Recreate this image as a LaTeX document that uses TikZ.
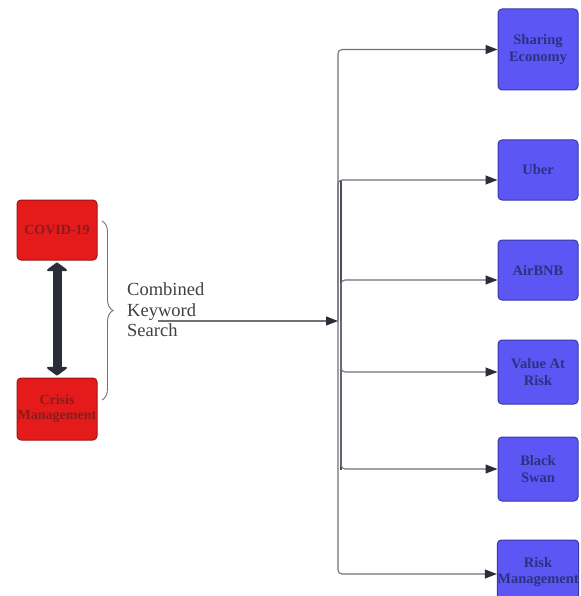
\documentclass[tikz,border=0pt]{standalone}
\usepackage{fontspec}
\setmainfont{Liberation Serif}
\usetikzlibrary{arrows.meta,decorations.pathreplacing}
\definecolor{redfill}{HTML}{E51B1B}
\definecolor{redline}{HTML}{9E1414}
\definecolor{redtext}{HTML}{8A1C1C}
\definecolor{bluefill}{HTML}{5C56F5}
\definecolor{blueline}{HTML}{3A38A8}
\definecolor{bluetext}{HTML}{2E3080}
\definecolor{conngrey}{HTML}{6E7178}
\definecolor{darkarrow}{HTML}{2B2E38}
\tikzset{
  redbox/.style={draw=redline, fill=redfill, line width=1pt, rounded corners=4pt,
    minimum width=80pt, text=redtext, align=center,
    font=\fontsize{14}{16}\selectfont\bfseries, inner sep=0pt},
  bluebox/.style={draw=blueline, fill=bluefill, line width=1pt, rounded corners=4pt,
    minimum width=80pt, text=bluetext, align=center,
    font=\fontsize{14.5}{17}\selectfont\bfseries, inner sep=0pt},
  conn/.style={draw=conngrey, line width=1.1pt, rounded corners=4pt,
    -{Triangle[length=12pt,width=9pt,fill=darkarrow,color=darkarrow]}},
  trunk/.style={draw=conngrey!70!black, line width=1.6pt},
  bigarrow/.style={draw=darkarrow, line width=9pt,
    {Triangle[length=9pt,width=24pt,round]}-{Triangle[length=9pt,width=24pt,round]}},
  bracestyle/.style={draw=conngrey, line width=0.9pt, decorate,
    decoration={brace, amplitude=11pt}},
  label/.style={align=left, text=black!75, font=\fontsize{18.5}{20.5}\selectfont, inner sep=0pt}
}
\begin{document}
\begin{tikzpicture}[x=1pt,y=-1pt]
\useasboundingbox[fill=white] (0,0) rectangle (580,596);
% red boxes
\node[redbox, minimum height=60pt] (covid) at (57,230) {COVID-19};
\node[redbox, minimum height=62pt] (crisis) at (57,409) {Crisis\\[-1pt]Management};
\draw[bigarrow] ([yshift=-2pt]covid.south) -- ([yshift=2pt]crisis.north);
% brace
\coordinate (bt) at (102,221);
\coordinate (bb) at (102,400);
\draw[bracestyle] (bt) -- (bb);
% label
\node[label, anchor=west] (kw) at (127,310) {Combined\\Keyword\\Search};
% blue boxes
\node[bluebox, minimum height=81pt] (share) at (538,49.5) {Sharing\\Economy};
\node[bluebox, minimum height=60pt] (uber) at (538,170) {Uber};
\node[bluebox, minimum height=60pt] (air) at (538,270) {AirBNB};
\node[bluebox, minimum height=64pt] (var) at (538,372) {Value At\\Risk};
\node[bluebox, minimum height=64pt] (swan) at (538,469) {Black\\Swan};
\node[bluebox, minimum height=64pt] (risk) at (538,572) {Risk\\[-1pt]Management};
% connectors
\coordinate (start) at (158,321);
\coordinate (hub) at (338,321);
\coordinate (hubb) at (341,321);
\coordinate (t1) at (341,180);
\coordinate (t2) at (341,470);
\draw[trunk] (t1) -- (t2);
\draw[conn] (start) -- (hub);
\draw[conn] (hub) |- (share.west);
\draw[conn] (hub) |- ([yshift=-10pt]uber.west);
\draw[conn] (hubb) |- ([yshift=-10pt]air.west);
\draw[conn] (hubb) |- (var.west);
\draw[conn] (hubb) |- (swan.west);
\draw[conn] (hub) |- ([yshift=-2pt]risk.west);
\end{tikzpicture}
\end{document}
